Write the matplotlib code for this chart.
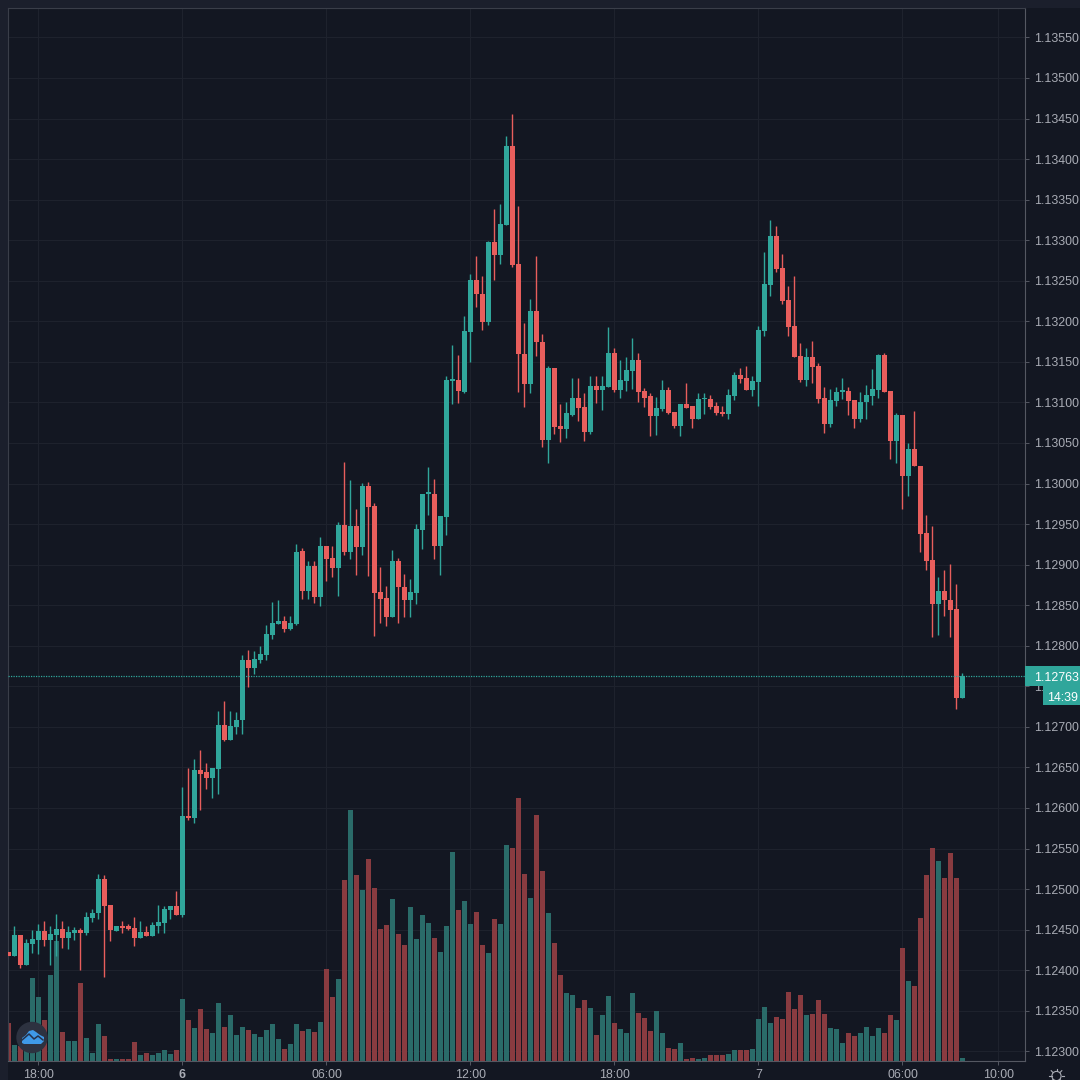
import matplotlib
matplotlib.use('Agg')
import matplotlib.pyplot as plt
from matplotlib.patches import Rectangle, Circle, Polygon
from matplotlib.lines import Line2D
import numpy as np

plt.rcParams['font.family'] = ['Liberation Sans', 'DejaVu Sans']

# prices are stored as points above 1.12000 (422 = 1.12422), 15 minute candles
open_pts = [422,418,443,406,432,437,448,437,443,451,
            440,446,450,446,464,471,512,480,448,455,
            454,452,440,447,442,454,458,474,479,468,
            590,588,647,644,637,648,702,684,700,708,
            782,772,783,788,813,827,830,821,827,917,
            868,898,860,923,908,896,949,916,948,922,
            997,972,866,859,836,904,872,856,865,943,
            987,987,923,959,1127,1128,1113,1187,1251,1234,
            1199,1298,1282,1319,1416,1271,1160,1123,1213,1174,
            1054,1142,1071,1067,1085,1106,1094,1064,1120,1115,
            1119,1161,1115,1126,1139,1152,1114,1108,1083,1092,
            1115,1088,1071,1098,1095,1079,1104,1104,1096,1088,
            1086,1108,1134,1130,1115,1125,1188,1245,1305,1266,
            1226,1194,1157,1128,1156,1145,1105,1073,1102,1113,
            1114,1103,1080,1100,1108,1115,1158,1114,1053,1084,
            1009,1043,1022,939,906,851,867,856,845,735]
close_pts = [418,443,406,433,438,448,437,445,451,440,
             447,450,446,465,471,512,479,449,455,452,
             451,440,447,442,456,459,475,479,468,590,
             587,647,642,637,649,702,684,701,708,782,
             772,784,790,814,828,830,821,828,916,868,
             898,860,923,907,896,949,916,948,922,997,
             971,865,858,836,904,872,856,866,944,987,
             987,923,960,1128,1128,1114,1188,1251,1234,1199,
             1298,1282,1320,1416,1269,1160,1123,1213,1174,1054,
             1142,1070,1067,1087,1106,1093,1064,1120,1115,1120,
             1161,1115,1128,1140,1152,1113,1106,1083,1093,1115,
             1087,1071,1098,1093,1079,1104,1104,1094,1087,1086,
             1109,1134,1129,1115,1126,1189,1246,1305,1264,1225,
             1193,1156,1128,1156,1144,1104,1073,1103,1113,1114,
             1102,1080,1100,1109,1117,1158,1113,1053,1084,1009,
             1043,1022,938,904,851,867,856,844,735,763]
high_pts = [422,454,443,438,450,457,461,454,469,461,
            455,453,452,472,475,519,517,480,455,460,
            457,466,460,455,459,480,479,479,497,626,
            649,660,672,656,649,720,732,720,718,788,
            795,794,800,825,854,856,837,837,926,920,
            904,904,934,923,923,953,1027,1004,968,1001,
            1002,976,897,874,918,908,888,882,950,987,
            1020,1005,960,1132,1171,1158,1207,1258,1280,1256,
            1299,1338,1345,1428,1456,1342,1198,1227,1280,1184,
            1145,1142,1098,1101,1130,1130,1112,1133,1132,1132,
            1193,1167,1152,1156,1179,1161,1118,1112,1107,1128,
            1119,1088,1098,1124,1095,1112,1112,1109,1101,1095,
            1117,1138,1143,1145,1132,1194,1286,1325,1317,1283,
            1244,1256,1173,1167,1176,1149,1119,1116,1119,1130,
            1119,1103,1113,1121,1141,1160,1161,1114,1087,1084,
            1050,1089,1022,961,948,885,893,901,876,766]
low_pts = [418,418,403,406,421,420,430,406,417,427,
           426,437,400,443,459,463,391,436,448,446,
           450,430,440,442,442,446,446,463,468,465,
           585,582,597,623,612,617,682,684,691,691,
           749,765,779,783,808,827,817,820,825,858,
           858,853,849,880,885,861,912,907,887,912,
           886,812,828,824,836,828,836,836,851,919,
           961,907,887,936,1098,1099,1111,1150,1218,1189,
           1195,1251,1271,1319,1267,1113,1094,1111,1157,1045,
           1025,1061,1051,1056,1083,1077,1052,1061,1099,1091,
           1119,1113,1105,1114,1117,1101,1094,1059,1060,1090,
           1086,1068,1059,1093,1068,1079,1086,1092,1085,1083,
           1079,1103,1124,1115,1108,1095,1182,1231,1261,1221,
           1182,1156,1125,1120,1124,1099,1062,1070,1095,1104,
           1084,1068,1076,1079,1097,1106,1113,1030,1025,969,
           985,1022,916,893,811,813,837,811,722,735]
volume = [38,16,15,28,83,64,41,86,120,29,
          20,20,78,23,8,37,25,2,2,2,
          2,19,6,8,6,8,11,7,11,62,
          41,33,52,32,28,58,34,46,26,34,
          31,27,24,31,37,22,12,17,37,30,
          32,29,39,92,64,82,181,251,186,171,
          202,173,132,136,162,127,116,154,122,146,
          138,123,109,135,209,151,160,137,149,116,
          108,142,137,216,213,263,187,163,246,190,
          148,118,86,68,66,53,61,53,26,46,
          65,38,32,28,68,48,43,30,50,28,
          13,12,18,2,3,2,3,6,6,6,
          7,11,11,11,12,42,54,38,44,42,
          69,52,66,46,47,61,47,33,32,18,
          28,25,28,34,25,33,28,46,41,113,
          80,75,143,186,213,200,183,208,183,3]

time_ticks = [5, 29, 53, 77, 101, 125, 149, 165]
time_labels = ['18:00', '6', '06:00', '12:00', '18:00', '7', '06:00', '10:00']
price_ticks = [1.123 + 0.0005 * k for k in range(26)]
last_price = 1.12763
countdown = '14:39'

UP = '#30a69b'
DOWN = '#e85e5c'
VOL_UP = '#2a6b69'
VOL_DOWN = '#893b40'
BG = '#131722'
STRIP = '#1b1f2c'
GRID = '#1e222d'
LINE = '#555862'
TEXT = '#a9acb5'


def fx(px):
    return px / 1080


def fy(py):
    return 1 - py / 1080


o = 1.12 + np.array(open_pts) / 1e5
c = 1.12 + np.array(close_pts) / 1e5
h = 1.12 + np.array(high_pts) / 1e5
l = 1.12 + np.array(low_pts) / 1e5
vol = np.array(volume)
idx = np.arange(len(o))
up = c >= o

fig = plt.figure(figsize=(10.8, 10.8), dpi=100, facecolor=STRIP)
fig.add_artist(Rectangle((fx(8), 0), 1, fy(8), transform=fig.transFigure,
                         facecolor=BG, edgecolor='none', zorder=-5))

rect = [fx(8), fy(1061), fx(1025) - fx(8), fy(8) - fy(1061)]
ax_vol = fig.add_axes(rect, facecolor=BG, zorder=1)
ax = fig.add_axes(rect, facecolor='none', zorder=2)

#----------------------------------------
# volume pane, with the grid under the bars
ax_vol.bar(idx, vol, width=0.82, color=np.where(up, VOL_UP, VOL_DOWN), zorder=2)
ax_vol.vlines(time_ticks, 0, 1, transform=ax_vol.get_xaxis_transform(), color=GRID, lw=0.8, zorder=0)
ax_vol.hlines(price_ticks, 0, 1, transform=ax.get_yaxis_transform(), color=GRID, lw=0.8, zorder=0)
ax_vol.set_ylim(0, 1053)
ax_vol.set_yticks([])
ax_vol.set_xticks([])
for s in ax_vol.spines.values():
    s.set_visible(False)

#----------------------------------------
# candles
ax.vlines(idx, l, h, colors=np.where(up, UP, DOWN), lw=1.0, zorder=2)
ax.bar(idx, np.maximum(np.abs(c - o), 2e-5), bottom=np.minimum(o, c), width=0.84,
       color=np.where(up, UP, DOWN), zorder=3)
ax.axhline(last_price, color=UP, lw=0.9, ls=(0, (1, 1)), zorder=4)

ax.set_xlim(-0.083, 169.42)
ax.set_ylim(1.12288, 1.135863)
ax_vol.set_xlim(ax.get_xlim())

ax.yaxis.tick_right()
ax.set_yticks(price_ticks)
ax.set_yticklabels([f'{p:.5f}' for p in price_ticks])
ax.set_xticks(time_ticks)
ax.set_xticklabels(time_labels)
ax.get_xticklabels()[1].set_fontweight('bold')
ax.tick_params(axis='y', length=2.9, width=0.7, color=LINE, labelcolor=TEXT, labelsize=8.9, pad=3.3)
ax.tick_params(axis='x', length=2.9, width=0.7, color=LINE, labelcolor=TEXT, labelsize=8.9, pad=3.2)
for s in ax.spines.values():
    s.set_color(LINE)
    s.set_linewidth(0.8)
ax.spines['top'].set_color('#3a3e49')
ax.spines['left'].set_color('#3a3e49')

#----------------------------------------
# last price and countdown tags
tag_y = ax.transData.transform((0, last_price))[1] / fig.bbox.height
fig.add_artist(Rectangle((fx(1025), tag_y - 10.5 / 1080), fx(55), 20.5 / 1080, transform=fig.transFigure,
                         facecolor=UP, edgecolor='none', zorder=5))
fig.add_artist(Rectangle((fx(1043), tag_y - 29.5 / 1080), fx(37), 19.5 / 1080, transform=fig.transFigure,
                         facecolor=UP, edgecolor='none', zorder=5))
fig.text(fx(1034), tag_y - 0.5 / 1080, f'{last_price:.5f}', color='white', fontsize=8.9, ha='left',
         va='center_baseline', zorder=6)
fig.text(fx(1047), tag_y - 20.5 / 1080, countdown, color='white', fontsize=8.9, ha='left',
         va='center_baseline', zorder=6)

#----------------------------------------
# logo badge, bottom left
fig.add_artist(Circle((fx(32), fy(1037.5)), 15.7 / 1080, transform=fig.transFigure,
                      facecolor='#2d3240', edgecolor='none', zorder=7))
cloud = [(22, 1043), (22, 1038), (26, 1035), (29, 1031), (33, 1030), (36, 1032),
         (40, 1035), (44, 1037), (44, 1041), (41, 1044), (24, 1044)]
fig.add_artist(Polygon([(fx(a), fy(b)) for a, b in cloud], transform=fig.transFigure,
                       facecolor='#3f9ae8', edgecolor='none', zorder=8))
fig.add_artist(Line2D([fx(22), fx(29), fx(34), fx(38), fx(43)],
                      [fy(1040), fy(1034), fy(1039), fy(1036), fy(1040)],
                      color='#26324a', lw=1.1, zorder=9))

#----------------------------------------
# settings icon, bottom right
fig.add_artist(Circle((fx(1056.5), fy(1076)), 4.6 / 1080, transform=fig.transFigure,
                      facecolor='none', edgecolor=TEXT, lw=0.8, zorder=7))
for a in np.arange(0, 2 * np.pi, np.pi / 4):
    fig.add_artist(Line2D([fx(1056.5 + 5 * np.cos(a)), fx(1056.5 + 7.5 * np.cos(a))],
                          [fy(1076 + 5 * np.sin(a)), fy(1076 + 7.5 * np.sin(a))],
                          color=TEXT, lw=0.8, zorder=7))

plt.savefig('out.png', dpi=100, facecolor=fig.get_facecolor())
